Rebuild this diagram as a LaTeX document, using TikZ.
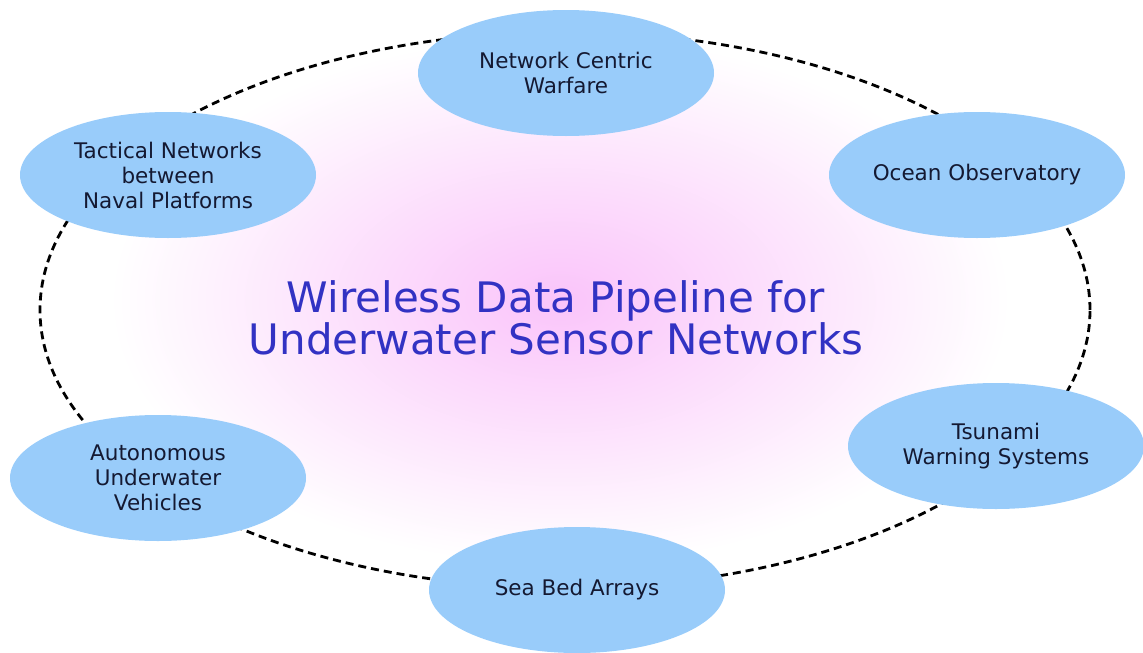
\documentclass[tikz,border=0pt]{standalone}
\usepackage{fontspec}
\setmainfont{DejaVu Sans}
\usepackage{xcolor}
\usetikzlibrary{shapes.geometric}
\definecolor{appfill}{RGB}{153,204,250}
\definecolor{apptext}{RGB}{20,25,50}
\definecolor{titleblue}{RGB}{50,50,195}
\definecolor{glow}{RGB}{250,196,250}

\begin{document}
\begin{tikzpicture}[x=1pt,y=-1pt,
  app/.style={ellipse,fill=appfill,minimum width=296pt,minimum height=126pt,inner sep=0pt,
    align=center,text=apptext,font=\fontsize{21.5}{25}\selectfont},
  ring/.style={ellipse,draw=black,line width=2.8pt,dash pattern=on 8pt off 5pt,
    minimum width=1050pt,minimum height=556pt,inner sep=0pt}]
  \useasboundingbox (0,0) rectangle (1143,653);
  \clip (0,0) rectangle (1143,653);
  % soft pink glow behind the title
  \shade[inner color=glow,outer color=white] (560,300) ellipse (450 and 265);
  \node[ring] (ring) at (565,310) {};
  \node[font=\fontsize{42}{37}\selectfont,text=titleblue,align=center] (title) at (556,318)
    {Wireless Data Pipeline for\\Underwater Sensor Networks};
  % applications round the ring
  \node[app] (ncw) at (566,73) {Network Centric\\Warfare};
  \node[app] (tac) at (168,175) {Tactical Networks\\between\\Naval Platforms};
  \node[app] (obs) at (977,175) {Ocean Observatory};
  \node[app] (tsu) at (996,446) {Tsunami\\Warning Systems};
  \node[app] (sea) at (577,590) {Sea Bed Arrays};
  \node[app] (auv) at (158,478) {Autonomous\\Underwater\\Vehicles};
\end{tikzpicture}
\end{document}
